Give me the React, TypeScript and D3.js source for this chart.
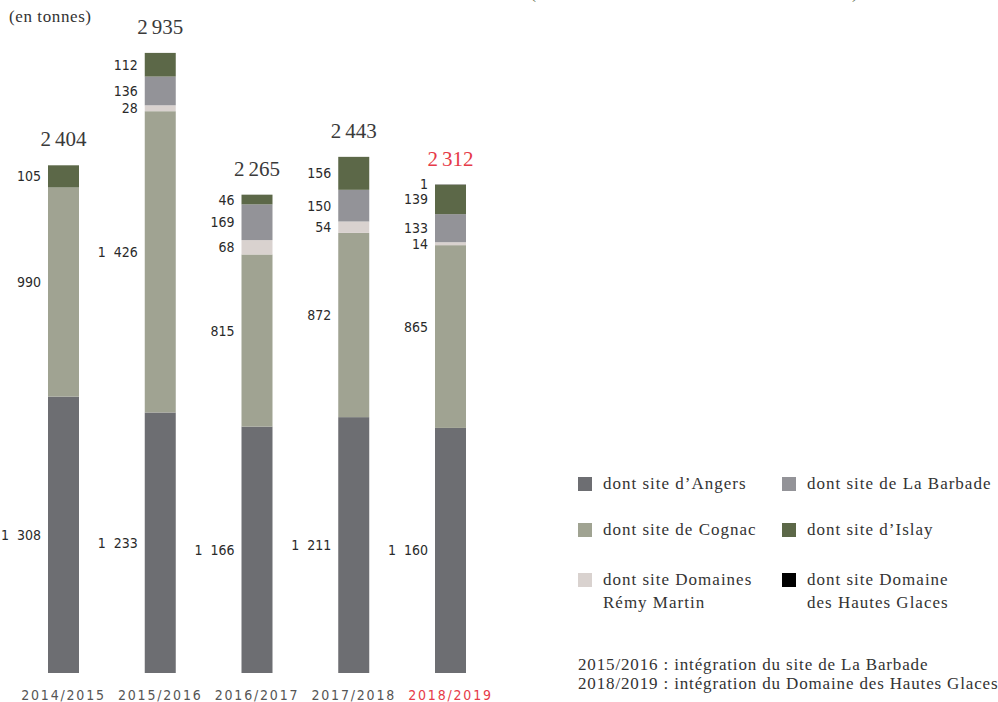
import React from "react";
import * as d3 from "d3";

const years = ["2014/2015", "2015/2016", "2016/2017", "2017/2018", "2018/2019"];
const totals = [2404, 2935, 2265, 2443, 2312];
const angers = [1308, 1233, 1166, 1211, 1160];
const cognac = [990, 1426, 815, 872, 865];
const remyMartin = [0, 28, 68, 54, 14];
const barbade = [0, 136, 169, 150, 133];
const islay = [105, 112, 46, 156, 139];
const hautesGlaces = [0, 0, 0, 0, 1];

const seriesKeys = ["angers", "cognac", "remy", "barbade", "islay", "hg"];
const seriesValues: Record<string, number[]> = {
  angers, cognac, remy: remyMartin, barbade, islay, hg: hautesGlaces,
};
const seriesColors: Record<string, string> = {
  angers: "#6d6e72",
  cognac: "#a0a392",
  remy: "#d9d2cf",
  barbade: "#939398",
  islay: "#5c6848",
  hg: "#000000",
};
const legendItems = [
  { key: "angers", lines: ["dont site d\u2019Angers"] },
  { key: "barbade", lines: ["dont site de La Barbade"] },
  { key: "cognac", lines: ["dont site de Cognac"] },
  { key: "islay", lines: ["dont site d\u2019Islay"] },
  { key: "remy", lines: ["dont site Domaines", "R\u00e9my Martin"] },
  { key: "hg", lines: ["dont site Domaine", "des Hautes Glaces"] },
];
const notes = [
  "2015/2016 : int\u00e9gration du site de La Barbade",
  "2018/2019 : int\u00e9gration du Domaine des Hautes Glaces",
];
const unitLabel = "(en tonnes)";
const highlightYear = "2018/2019";

const RED = "#e63a48";
const serif = "'Liberation Serif', 'Times New Roman', serif";
const cond = "'DejaVu Sans Condensed', 'Liberation Sans Narrow', sans-serif";

const numFmt = d3.formatLocale({ decimal: ",", thousands: "\u2007", grouping: [3], currency: ["", ""] }).format(",d");
const totFmt = d3.formatLocale({ decimal: ",", thousands: "\u2009", grouping: [3], currency: ["", ""] }).format(",d");

export default function App() {
  const W = 998, H = 702;
  const x = d3.scalePoint<string>().domain(years).range([63.5, 450.5]);
  const y = d3.scaleLinear().domain([0, 2935]).range([673, 52.9]);
  const bw = 31;

  const rows = years.map((yr, i) => {
    const r: any = { year: yr };
    seriesKeys.forEach((k) => (r[k] = seriesValues[k][i]));
    return r;
  });
  const stacked = d3.stack<any>().keys(seriesKeys)(rows);

  return (
    <svg width={W} height={H} style={{ position: "absolute", left: 0, top: 0, background: "#fff" }}>
      {/* cut-off title parentheses */}
      <text x={530} y={-2} fontFamily={serif} fontSize={18} fill="#5c6848">(</text>
      <text x={852} y={-2} fontFamily={serif} fontSize={18} fill="#5c6848">)</text>

      <text x={9} y={22} fontFamily={serif} fontSize={17} letterSpacing={0.6} fill="#333">{unitLabel}</text>

      {stacked.map((layer) => (
        <g key={layer.key}>
          {layer.map((d, i) => {
            const v = d[1] - d[0];
            if (v <= 0) return null;
            const cx = x(years[i]) as number;
            const y0 = y(d[0]);
            const y1 = y(d[1]);
            return (
              <rect key={i} x={cx - bw / 2} y={y1} width={bw} height={y0 - y1}
                fill={seriesColors[layer.key]} />
            );
          })}
        </g>
      ))}

      {stacked.map((layer) => (
        <g key={"l" + layer.key}>
          {layer.map((d, i) => {
            const v = d[1] - d[0];
            if (v <= 0) return null;
            const cx = x(years[i]) as number;
            let my = (y(d[0]) + y(d[1])) / 2;
            if (layer.key === "cognac") my -= 10;
            if (layer.key === "hg") my = y(d[1]) - 1;
            return (
              <text key={i} x={cx - bw / 2 - 7} y={my} dy="0.36em" textAnchor="end"
                fontFamily={cond} fontSize={14} fill="#2a2a2a">{numFmt(v)}</text>
            );
          })}
        </g>
      ))}

      {years.map((yr, i) => {
        const top = y(d3.sum(seriesKeys, (k) => seriesValues[k][i]));
        return (
          <text key={yr} x={x(yr)} y={top - 19} textAnchor="middle" fontFamily={serif}
            fontSize={21} fill={yr === highlightYear ? RED : "#3a3a3a"}>{totFmt(totals[i])}</text>
        );
      })}

      {years.map((yr) => (
        <text key={"x" + yr} x={x(yr)} y={700} textAnchor="middle" fontFamily={cond}
          fontSize={14} letterSpacing={1.8} fill={yr === highlightYear ? RED : "#555"}>{yr}</text>
      ))}

      {legendItems.map((it, i) => {
        const col = i % 2;
        const row = Math.floor(i / 2);
        const lx = col === 0 ? 578 : 782;
        const rowY = [484, 530, 580][row];
        return (
          <g key={it.key}>
            <rect x={lx} y={rowY - 7} width={14} height={14} fill={seriesColors[it.key]} />
            {it.lines.map((ln, j) => (
              <text key={j} x={lx + 25} y={rowY + 5 + j * 23} fontFamily={serif} fontSize={17}
                letterSpacing={1} fill="#333">{ln}</text>
            ))}
          </g>
        );
      })}

      {notes.map((n, i) => (
        <text key={i} x={578} y={670 + i * 19} fontFamily={serif} fontSize={17}
          letterSpacing={0.85} fill="#333">{n}</text>
      ))}
    </svg>
  );
}
